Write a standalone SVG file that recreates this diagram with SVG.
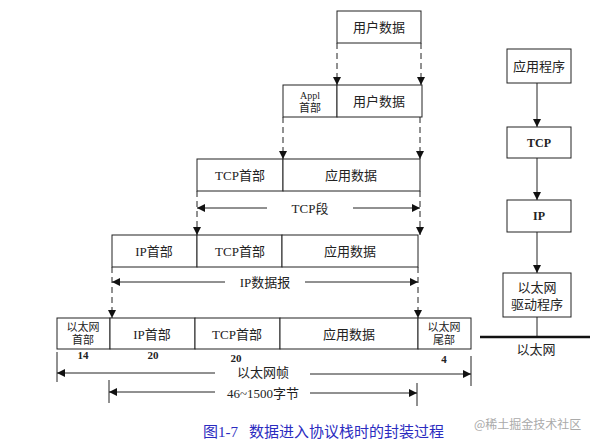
<svg xmlns="http://www.w3.org/2000/svg" width="600" height="445" viewBox="0 0 600 445">
<style>
.b{fill:#fff;stroke:#222;stroke-width:1}
.t{font-family:"Liberation Serif","Noto Sans CJK SC",serif;font-size:13px;fill:#222;text-anchor:middle;dominant-baseline:central}
.s{font-size:11px}
.n{font-family:"Liberation Serif",serif;font-size:11px;font-weight:bold;fill:#222;text-anchor:middle}
.d{stroke:#222;stroke-width:1;stroke-dasharray:6,4;fill:none}
.l{stroke:#222;stroke-width:1;fill:none}
.c{font-family:"Liberation Serif","Noto Sans CJK SC",serif;font-size:15px;fill:#2b2bc0}
</style>
<defs>
<marker id="ah" markerWidth="8" markerHeight="10" refX="8" refY="5" orient="auto" markerUnits="userSpaceOnUse"><path d="M0,1 L8,5 L0,9 Z" fill="#111"/></marker>
</defs>
<rect width="600" height="445" fill="#fff"/>
<g id="connectors">
<line class="d" x1="337" y1="43" x2="337" y2="85" marker-end="url(#ah)"/>
<line class="d" x1="421" y1="43" x2="421" y2="85" marker-end="url(#ah)"/>
<line class="d" x1="283" y1="117" x2="283" y2="159" marker-end="url(#ah)"/>
<line class="d" x1="420" y1="117" x2="420" y2="159" marker-end="url(#ah)"/>
<line class="d" x1="197" y1="191" x2="197" y2="235" marker-end="url(#ah)"/>
<line class="d" x1="420" y1="191" x2="420" y2="235" marker-end="url(#ah)"/>
<line class="d" x1="112" y1="267" x2="112" y2="318" marker-end="url(#ah)"/>
<line class="d" x1="418" y1="267" x2="418" y2="318" marker-end="url(#ah)"/>
<line class="l" x1="267" y1="208" x2="197" y2="208" marker-end="url(#ah)"/>
<line class="l" x1="353" y1="208" x2="420" y2="208" marker-end="url(#ah)"/>
<line class="l" x1="225" y1="282" x2="112" y2="282" marker-end="url(#ah)"/>
<line class="l" x1="305" y1="282" x2="418" y2="282" marker-end="url(#ah)"/>
<line class="l" x1="57" y1="352" x2="57" y2="382"/>
<line class="l" x1="471" y1="356" x2="471" y2="386"/>
<line class="l" x1="215" y1="373" x2="57" y2="373" marker-end="url(#ah)"/>
<line class="l" x1="310" y1="374" x2="471" y2="374" marker-end="url(#ah)"/>
<line class="l" x1="109" y1="380" x2="109" y2="403"/>
<line class="l" x1="417" y1="383" x2="417" y2="406"/>
<line class="l" x1="215" y1="392" x2="109" y2="392" marker-end="url(#ah)"/>
<line class="l" x1="310" y1="393" x2="417" y2="393" marker-end="url(#ah)"/>
<line class="l" x1="537" y1="83" x2="537" y2="127" marker-end="url(#ah)"/>
<line class="l" x1="537" y1="158" x2="537" y2="200" marker-end="url(#ah)"/>
<line class="l" x1="537" y1="232" x2="537" y2="273" marker-end="url(#ah)"/>
<line class="l" x1="537" y1="317" x2="537" y2="337"/>
<line x1="480" y1="337" x2="590" y2="337" stroke="#111" stroke-width="2.5"/>
</g>
<g id="user-data">
<rect class="b" x="337" y="11" width="84" height="32"/>
<text class="t" x="379" y="27">用户数据</text>
</g>
<g id="app-row">
<rect class="b" x="283" y="85" width="54" height="32"/>
<rect class="b" x="337" y="85" width="85" height="32"/>
<text class="t s" x="310" y="95" style="font-size:10px">Appl</text>
<text class="t s" x="310" y="108">首部</text>
<text class="t" x="379" y="101">用户数据</text>
</g>
<g id="tcp-row">
<rect class="b" x="197" y="159" width="86" height="32"/>
<rect class="b" x="283" y="159" width="137" height="32"/>
<text class="t" x="240" y="175">TCP首部</text>
<text class="t" x="351" y="175">应用数据</text>
<text class="t" x="310" y="208">TCP段</text>
</g>
<g id="ip-row">
<rect class="b" x="112" y="235" width="85" height="32"/>
<rect class="b" x="197" y="235" width="85" height="32"/>
<rect class="b" x="282" y="235" width="136" height="32"/>
<text class="t" x="154" y="251">IP首部</text>
<text class="t" x="240" y="251">TCP首部</text>
<text class="t" x="350" y="251">应用数据</text>
<text class="t" x="265" y="282">IP数据报</text>
</g>
<g id="eth-row">
<rect class="b" x="57" y="318" width="53" height="31"/>
<rect class="b" x="110" y="318" width="85" height="31"/>
<rect class="b" x="195" y="318" width="85" height="31"/>
<rect class="b" x="280" y="318" width="138" height="31"/>
<rect class="b" x="418" y="318" width="53" height="31"/>
<text class="t s" x="83" y="327">以太网</text>
<text class="t s" x="83" y="340">首部</text>
<text class="t" x="152" y="334">IP首部</text>
<text class="t" x="237" y="334">TCP首部</text>
<text class="t" x="349" y="334">应用数据</text>
<text class="t s" x="444" y="327">以太网</text>
<text class="t s" x="444" y="340">尾部</text>
<text class="n" x="83" y="359">14</text>
<text class="n" x="153" y="359">20</text>
<text class="n" x="236" y="362">20</text>
<text class="n" x="444" y="363">4</text>
<text class="t" x="263" y="372">以太网帧</text>
<text class="t" x="263" y="393">46~1500字节</text>
</g>
<g id="stack-app">
<rect class="b" x="507" y="49" width="64" height="34"/>
<text class="t" x="539" y="66">应用程序</text>
</g>
<g id="stack-tcp">
<rect class="b" x="507" y="127" width="64" height="31"/>
<text class="t" x="539" y="143" style="font-weight:bold;font-size:12px">TCP</text>
</g>
<g id="stack-ip">
<rect class="b" x="507" y="200" width="64" height="32"/>
<text class="t" x="539" y="216" style="font-weight:bold;font-size:12px">IP</text>
</g>
<g id="stack-eth">
<rect class="b" x="503" y="273" width="68" height="44"/>
<text class="t" x="537" y="287">以太网</text>
<text class="t" x="537" y="304">驱动程序</text>
</g>
<text class="t" x="536" y="349">以太网</text>
<text class="c" x="203" y="437">图1-7</text>
<text class="c" x="249" y="437">数据进入协议栈时的封装过程</text>
<text x="474" y="429" style="font-family:'Noto Sans CJK SC',sans-serif;font-size:12px;fill:#aaa">@稀土掘金技术社区</text>
</svg>
